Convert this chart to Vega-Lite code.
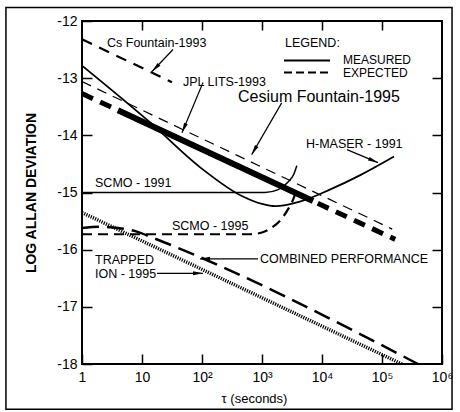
{
  "$schema": "https://vega.github.io/schema/vega-lite/v6.json",
  "width": 360,
  "height": 343,
  "autosize": {"type": "none"},
  "padding": {"left": 82, "top": 21, "right": 18, "bottom": 48},
  "config": {
    "font": "Liberation Sans",
    "view": {"stroke": "black", "strokeWidth": 2},
    "axis": {"grid": false, "domain": false, "tickColor": "black", "labelColor": "black", "titleColor": "black"}
  },
  "datasets": {
    "lines": [
      {"s": "cs1993", "t": 1, "v": -12.32},
      {"s": "cs1993", "t": 31.6, "v": -13.07},
      {"s": "jpl", "t": 1, "v": -13.06},
      {"s": "jpl", "t": 147911, "v": -15.64},
      {"s": "cs1995exp", "t": 1, "v": -13.27},
      {"s": "cs1995exp", "t": 165959, "v": -15.82},
      {"s": "cs1995meas", "t": 3.98, "v": -13.56},
      {"s": "cs1995meas", "t": 7079, "v": -15.15},
      {"s": "ion", "t": 1, "v": -15.35},
      {"s": "ion", "t": 213800, "v": -18.0},
      {"s": "combined", "t": 1, "v": -15.62},
      {"s": "combined", "t": 2, "v": -15.6},
      {"s": "combined", "t": 4, "v": -15.62},
      {"s": "combined", "t": 7.94, "v": -15.68},
      {"s": "combined", "t": 15.8, "v": -15.8},
      {"s": "combined", "t": 398107, "v": -18.0},
      {"s": "hmaser", "t": 1, "v": -12.78},
      {"s": "hmaser", "t": 13.5, "v": -13.77},
      {"s": "hmaser", "t": 93.3, "v": -14.56},
      {"s": "hmaser", "t": 479, "v": -15.07},
      {"s": "hmaser", "t": 1000, "v": -15.2},
      {"s": "hmaser", "t": 1660, "v": -15.24},
      {"s": "hmaser", "t": 4266, "v": -15.16},
      {"s": "hmaser", "t": 13490, "v": -14.95},
      {"s": "hmaser", "t": 42660, "v": -14.7},
      {"s": "hmaser", "t": 158500, "v": -14.37},
      {"s": "scmo1991", "t": 1, "v": -15.0},
      {"s": "scmo1991", "t": 1122, "v": -15.0},
      {"s": "scmo1991", "t": 1862, "v": -14.95},
      {"s": "scmo1991", "t": 2692, "v": -14.82},
      {"s": "scmo1991", "t": 3388, "v": -14.68},
      {"s": "scmo1991", "t": 3802, "v": -14.53},
      {"s": "scmo1995", "t": 1, "v": -15.73},
      {"s": "scmo1995", "t": 631, "v": -15.73},
      {"s": "scmo1995", "t": 1000, "v": -15.7},
      {"s": "scmo1995", "t": 1479, "v": -15.61},
      {"s": "scmo1995", "t": 2089, "v": -15.47},
      {"s": "scmo1995", "t": 2692, "v": -15.3},
      {"s": "scmo1995", "t": 3311, "v": -15.12},
      {"s": "scmo1995", "t": 3715, "v": -14.98},
      {"s": "legmeas", "t": 2326, "v": -12.692},
      {"s": "legmeas", "t": 13600, "v": -12.692},
      {"s": "legexp", "t": 2326, "v": -12.902},
      {"s": "legexp", "t": 13600, "v": -12.902}
    ],
    "texts": [
      {"label": "Cs Fountain-1993", "t": 2.61, "v": -12.377},
      {"label": "JPL LITS-1993", "t": 48.2, "v": -13.06},
      {"label": "LEGEND:", "t": 2417, "v": -12.377},
      {"label": "H-MASER - 1991", "t": 5412, "v": -14.145},
      {"label": "SCMO - 1991", "t": 1.648, "v": -14.828},
      {"label": "SCMO - 1995", "t": 31.6, "v": -15.581},
      {"label": "TRAPPED", "t": 1.648, "v": -16.177},
      {"label": "ION - 1995", "t": 1.648, "v": -16.422},
      {"label": "COMBINED PERFORMANCE", "t": 926, "v": -16.16}
    ],
    "legendtexts": [
      {"label": "MEASURED", "t": 22390, "v": -12.685},
      {"label": "EXPECTED", "t": 22390, "v": -12.905}
    ],
    "bigtexts": [
      {"label": "Cesium Fountain-1995", "t": 398, "v": -13.322}
    ],
    "arrows": [
      {"a": "cs1993", "t1": 32.9, "v1": -12.498, "t2": 14.7, "v2": -12.883},
      {"a": "jpl", "t1": 104, "v1": -13.077, "t2": 46.4, "v2": -13.953},
      {"a": "cs1995", "t1": 2130, "v1": -13.433, "t2": 673, "v2": -14.338},
      {"a": "hmaser", "t1": 26100, "v1": -14.25, "t2": 85800, "v2": -14.478},
      {"a": "ion", "t1": 17.8, "v1": -16.413, "t2": 104, "v2": -16.413},
      {"a": "combined", "t1": 858, "v1": -16.16, "t2": 92.6, "v2": -16.16}
    ],
    "frame": [
      {"t1": 0.054, "t2": 1470000, "v1": -18.79, "v2": -11.764}
    ]
  },
  "resolve": {"axis": {"x": "independent", "y": "independent"}},
  "layer": [
    {
      "data": {"name": "lines"},
      "transform": [{"filter": "datum.s == 'hmaser'"}],
      "mark": {"type": "line", "stroke": "black", "strokeWidth": 1.8, "interpolate": "monotone", "clip": true},
      "encoding": {
        "x": {"field": "t", "type": "quantitative", "scale": {"type": "log", "domain": [1, 1000000], "nice": false},
          "axis": {"orient": "bottom", "values": [1, 10, 100, 1000, 10000, 100000, 1000000], "tickSize": -10, "tickWidth": 1.5, "labelPadding": 16, "labelFontSize": 14, "labelFlush": false,
            "labelExpr": "datum.value == 1 ? '1' : datum.value == 10 ? '10' : datum.value == 100 ? '10²' : datum.value == 1000 ? '10³' : datum.value == 10000 ? '10⁴' : datum.value == 100000 ? '10⁵' : '10⁶'",
            "title": "τ (seconds)", "titleFontSize": 13, "titleFontWeight": "normal", "titlePadding": 8, "titleX": 172}},
        "y": {"field": "v", "type": "quantitative", "scale": {"domain": [-18, -12], "nice": false, "zero": false},
          "axis": {"orient": "left", "values": [-18, -17, -16, -15, -14, -13, -12], "tickSize": -10, "tickWidth": 1.5, "labelPadding": 15, "labelFontSize": 14, "labelFlush": false,
            "labelExpr": "'-' + (-datum.value)",
            "title": "LOG ALLAN DEVIATION", "titleFontSize": 14, "titleFontWeight": "bold", "titlePadding": 18}}
      }
    },
    {
      "data": {"name": "frame"},
      "mark": {"type": "rect", "fill": null, "fillOpacity": 0, "stroke": "black", "strokeWidth": 1.5, "clip": false},
      "encoding": {
        "x": {"field": "t1", "type": "quantitative", "scale": {"type": "log", "domain": [1, 1000000], "nice": false},
          "axis": {"orient": "top", "values": [10, 100, 1000, 10000, 100000], "tickSize": -9, "tickWidth": 1.5, "labels": false, "title": null}},
        "x2": {"field": "t2"},
        "y": {"field": "v1", "type": "quantitative", "scale": {"domain": [-18, -12], "nice": false, "zero": false},
          "axis": {"orient": "right", "values": [-17, -16, -15, -14, -13], "tickSize": -10, "tickWidth": 1.5, "labels": false, "title": null}},
        "y2": {"field": "v2"}
      }
    },
    {
      "data": {"name": "lines"},
      "transform": [{"filter": "datum.s == 'cs1993'"}],
      "mark": {"type": "line", "stroke": "black", "strokeWidth": 2.2, "strokeDash": [11, 8], "clip": true},
      "encoding": {"x": {"field": "t", "type": "quantitative", "axis": null}, "y": {"field": "v", "type": "quantitative", "axis": null}}
    },
    {
      "data": {"name": "lines"},
      "transform": [{"filter": "datum.s == 'jpl'"}],
      "mark": {"type": "line", "stroke": "black", "strokeWidth": 1.2, "strokeDash": [10, 7], "clip": true},
      "encoding": {"x": {"field": "t", "type": "quantitative", "axis": null}, "y": {"field": "v", "type": "quantitative", "axis": null}}
    },
    {
      "data": {"name": "lines"},
      "transform": [{"filter": "datum.s == 'cs1995exp'"}],
      "mark": {"type": "line", "stroke": "black", "strokeWidth": 5, "strokeDash": [12, 8], "clip": true},
      "encoding": {"x": {"field": "t", "type": "quantitative", "axis": null}, "y": {"field": "v", "type": "quantitative", "axis": null}}
    },
    {
      "data": {"name": "lines"},
      "transform": [{"filter": "datum.s == 'cs1995meas'"}],
      "mark": {"type": "line", "stroke": "black", "strokeWidth": 6, "clip": true},
      "encoding": {"x": {"field": "t", "type": "quantitative", "axis": null}, "y": {"field": "v", "type": "quantitative", "axis": null}}
    },
    {
      "data": {"name": "lines"},
      "transform": [{"filter": "datum.s == 'ion'"}],
      "mark": {"type": "line", "stroke": "black", "strokeWidth": 3.5, "strokeDash": [1.2, 1.2], "clip": true},
      "encoding": {"x": {"field": "t", "type": "quantitative", "axis": null}, "y": {"field": "v", "type": "quantitative", "axis": null}}
    },
    {
      "data": {"name": "lines"},
      "transform": [{"filter": "datum.s == 'combined'"}],
      "mark": {"type": "line", "stroke": "black", "strokeWidth": 2.5, "strokeDash": [17, 8], "interpolate": "monotone", "clip": true},
      "encoding": {"x": {"field": "t", "type": "quantitative", "axis": null}, "y": {"field": "v", "type": "quantitative", "axis": null}}
    },
    {
      "data": {"name": "lines"},
      "transform": [{"filter": "datum.s == 'scmo1991'"}],
      "mark": {"type": "line", "stroke": "black", "strokeWidth": 1.5, "interpolate": "monotone", "clip": true},
      "encoding": {"x": {"field": "t", "type": "quantitative", "axis": null}, "y": {"field": "v", "type": "quantitative", "axis": null}}
    },
    {
      "data": {"name": "lines"},
      "transform": [{"filter": "datum.s == 'scmo1995'"}],
      "mark": {"type": "line", "stroke": "black", "strokeWidth": 2.2, "strokeDash": [10, 6], "interpolate": "monotone", "clip": true},
      "encoding": {"x": {"field": "t", "type": "quantitative", "axis": null}, "y": {"field": "v", "type": "quantitative", "axis": null}}
    },
    {
      "data": {"name": "lines"},
      "transform": [{"filter": "datum.s == 'legmeas'"}],
      "mark": {"type": "line", "stroke": "black", "strokeWidth": 2},
      "encoding": {"x": {"field": "t", "type": "quantitative", "axis": null}, "y": {"field": "v", "type": "quantitative", "axis": null}}
    },
    {
      "data": {"name": "lines"},
      "transform": [{"filter": "datum.s == 'legexp'"}],
      "mark": {"type": "line", "stroke": "black", "strokeWidth": 2, "strokeDash": [8, 4]},
      "encoding": {"x": {"field": "t", "type": "quantitative", "axis": null}, "y": {"field": "v", "type": "quantitative", "axis": null}}
    },
    {
      "data": {"name": "arrows"},
      "mark": {"type": "rule", "stroke": "black", "strokeWidth": 1.2},
      "encoding": {
        "x": {"field": "t1", "type": "quantitative", "axis": null}, "y": {"field": "v1", "type": "quantitative", "axis": null},
        "x2": {"field": "t2"}, "y2": {"field": "v2"}
      }
    },
    {
      "data": {"name": "arrows"},
      "transform": [{"filter": "datum.a == 'cs1993'"}],
      "mark": {"type": "point", "shape": "M0,0L0.4,2L-0.4,2Z", "filled": true, "color": "black", "opacity": 1, "size": 100, "angle": 224},
      "encoding": {"x": {"field": "t2", "type": "quantitative", "axis": null}, "y": {"field": "v2", "type": "quantitative", "axis": null}}
    },
    {
      "data": {"name": "arrows"},
      "transform": [{"filter": "datum.a == 'jpl'"}],
      "mark": {"type": "point", "shape": "M0,0L0.4,2L-0.4,2Z", "filled": true, "color": "black", "opacity": 1, "size": 100, "angle": 203},
      "encoding": {"x": {"field": "t2", "type": "quantitative", "axis": null}, "y": {"field": "v2", "type": "quantitative", "axis": null}}
    },
    {
      "data": {"name": "arrows"},
      "transform": [{"filter": "datum.a == 'cs1995'"}],
      "mark": {"type": "point", "shape": "M0,0L0.4,2L-0.4,2Z", "filled": true, "color": "black", "opacity": 1, "size": 100, "angle": 210},
      "encoding": {"x": {"field": "t2", "type": "quantitative", "axis": null}, "y": {"field": "v2", "type": "quantitative", "axis": null}}
    },
    {
      "data": {"name": "arrows"},
      "transform": [{"filter": "datum.a == 'hmaser'"}],
      "mark": {"type": "point", "shape": "M0,0L0.4,2L-0.4,2Z", "filled": true, "color": "black", "opacity": 1, "size": 100, "angle": 113},
      "encoding": {"x": {"field": "t2", "type": "quantitative", "axis": null}, "y": {"field": "v2", "type": "quantitative", "axis": null}}
    },
    {
      "data": {"name": "arrows"},
      "transform": [{"filter": "datum.a == 'ion'"}],
      "mark": {"type": "point", "shape": "M0,0L0.4,2L-0.4,2Z", "filled": true, "color": "black", "opacity": 1, "size": 100, "angle": 90},
      "encoding": {"x": {"field": "t2", "type": "quantitative", "axis": null}, "y": {"field": "v2", "type": "quantitative", "axis": null}}
    },
    {
      "data": {"name": "arrows"},
      "transform": [{"filter": "datum.a == 'combined'"}],
      "mark": {"type": "point", "shape": "M0,0L0.4,2L-0.4,2Z", "filled": true, "color": "black", "opacity": 1, "size": 100, "angle": 270},
      "encoding": {"x": {"field": "t2", "type": "quantitative", "axis": null}, "y": {"field": "v2", "type": "quantitative", "axis": null}}
    },
    {
      "data": {"name": "texts"},
      "mark": {"type": "text", "align": "left", "baseline": "middle", "fontSize": 12.5, "color": "black"},
      "encoding": {"x": {"field": "t", "type": "quantitative", "axis": null}, "y": {"field": "v", "type": "quantitative", "axis": null}, "text": {"field": "label"}}
    },
    {
      "data": {"name": "legendtexts"},
      "mark": {"type": "text", "align": "left", "baseline": "middle", "fontSize": 12, "color": "black"},
      "encoding": {"x": {"field": "t", "type": "quantitative", "axis": null}, "y": {"field": "v", "type": "quantitative", "axis": null}, "text": {"field": "label"}}
    },
    {
      "data": {"name": "bigtexts"},
      "mark": {"type": "text", "align": "left", "baseline": "middle", "fontSize": 16, "color": "black"},
      "encoding": {"x": {"field": "t", "type": "quantitative", "axis": null}, "y": {"field": "v", "type": "quantitative", "axis": null}, "text": {"field": "label"}}
    }
  ]
}
